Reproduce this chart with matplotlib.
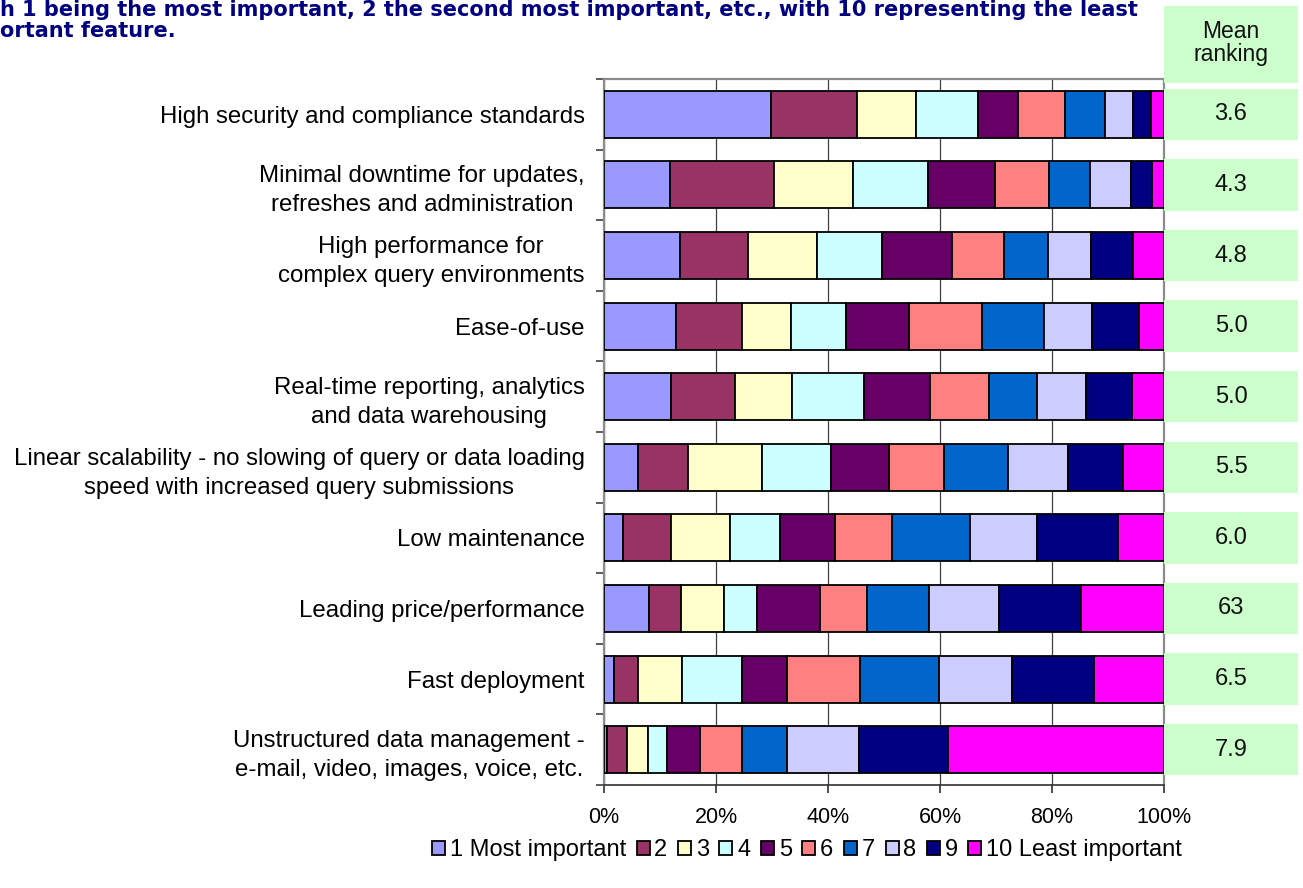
import matplotlib
matplotlib.use("Agg")
import matplotlib.pyplot as plt
import numpy as np
from matplotlib.patches import Rectangle

categories = [
    "High security and compliance standards",
    "Minimal downtime for updates,\nrefreshes and administration",
    "High performance for\ncomplex query environments",
    "Ease-of-use",
    "Real-time reporting, analytics\nand data warehousing",
    "Linear scalability - no slowing of query or data loading\nspeed with increased query submissions",
    "Low maintenance",
    "Leading price/performance",
    "Fast deployment",
    "Unstructured data management -\ne-mail, video, images, voice, etc.",
]

series_names = ["1 Most important", "2", "3", "4", "5", "6", "7", "8", "9", "10 Least important"]

# percentage of respondents per rank (rows = categories, columns = rank 1..10)
rank_1 = [29.8, 11.7, 13.6, 12.8, 11.9, 6.0, 3.4, 8.1, 1.7, 0.6]
rank_2 = [15.3, 18.6, 12.1, 11.8, 11.5, 9.0, 8.5, 5.7, 4.4, 3.5]
rank_3 = [10.6, 14.2, 12.4, 8.8, 10.2, 13.3, 10.6, 7.6, 7.9, 3.7]
rank_4 = [11.0, 13.4, 11.6, 9.9, 12.8, 12.3, 8.9, 6.0, 10.6, 3.5]
rank_5 = [7.3, 12.0, 12.5, 11.1, 11.8, 10.3, 9.8, 11.2, 8.0, 5.8]
rank_6 = [8.4, 9.5, 9.2, 13.1, 10.5, 9.8, 10.2, 8.3, 13.1, 7.5]
rank_7 = [7.1, 7.3, 7.8, 11.1, 8.6, 11.4, 13.9, 11.2, 14.1, 8.0]
rank_8 = [5.0, 7.4, 7.7, 8.6, 8.8, 10.8, 12.0, 12.4, 13.1, 13.0]
rank_9 = [3.2, 3.7, 7.6, 8.4, 8.2, 9.7, 14.5, 14.7, 14.6, 15.9]
rank_10 = [2.3, 2.2, 5.5, 4.4, 5.7, 7.4, 8.2, 14.8, 12.5, 38.5]

mean_ranking = ["3.6", "4.3", "4.8", "5.0", "5.0", "5.5", "6.0", "63", "6.5", "7.9"]

x_ticks = [0, 20, 40, 60, 80, 100]
x_tick_labels = ["0%", "20%", "40%", "60%", "80%", "100%"]

title_line1 = "h 1 being the most important, 2 the second most important, etc., with 10 representing the least"
title_line2 = "ortant feature."
header_text = "Mean\nranking"

colors = ["#9999FF", "#993366", "#FFFFCC", "#CCFFFF", "#660066",
          "#FF8080", "#0066CC", "#CCCCFF", "#000080", "#FF00FF"]

plt.rcParams["font.family"] = ["Liberation Sans", "DejaVu Sans"]

W, H = 1303, 888
fig = plt.figure(figsize=(W / 100, H / 100), dpi=100)

def fx(px):
    return px / W

def fy(py):
    return 1 - py / H

ax_left, ax_right, ax_top, ax_bot = 604, 1164, 79, 785
ax = fig.add_axes([fx(ax_left), fy(ax_bot), fx(ax_right - ax_left), (ax_bot - ax_top) / H])

data = np.array([rank_1, rank_2, rank_3, rank_4, rank_5, rank_6, rank_7, rank_8, rank_9, rank_10])
y = np.arange(len(categories))
left = np.zeros(len(categories))
handles = []
for i in range(10):
    b = ax.barh(y, data[i], left=left, height=0.667, color=colors[i],
                edgecolor="black", linewidth=1.3, label=series_names[i], zorder=3)
    handles.append(b)
    left += data[i]

ax.set_xlim(0, 100)
ax.set_ylim(len(categories) - 0.5, -0.5)
ax.set_xticks(x_ticks)
ax.set_xticklabels(x_tick_labels, fontsize=15.5)
ax.set_yticks(y)
ax.set_yticklabels(categories, fontsize=17.3, multialignment="center", linespacing=1.4)
ax.set_yticks(np.arange(-0.5, len(categories) + 0.5, 1), minor=True)
ax.tick_params(axis="y", which="major", length=0, pad=14)
ax.tick_params(axis="y", which="minor", length=6, width=1.2, color="#404040", direction="out")
ax.tick_params(axis="x", which="major", length=6, width=1.2, color="#303030", direction="out", pad=10)
ax.xaxis.grid(True, color="#404040", linewidth=0.9, zorder=0)
ax.set_axisbelow(True)
for s in ["top", "right", "left"]:
    ax.spines[s].set_color("#8c8c8c")
    ax.spines[s].set_linewidth(1.6)
ax.spines["bottom"].set_color("#303030")
ax.spines["bottom"].set_linewidth(1.2)

# Mean ranking column
ax2 = fig.add_axes([fx(1164), fy(ax_bot), fx(1298 - 1164), (ax_bot - ax_top) / H])
ax2.set_xlim(0, 1)
ax2.set_ylim(len(categories) - 0.5, -0.5)
ax2.barh(y, [1] * len(categories), height=0.73, color="#CCFFCC", edgecolor="none")
for yi, txt in zip(y, mean_ranking):
    ax2.text(0.5, yi, txt, ha="center", va="center", fontsize=17, color="#111111")
# header cell
ax2.add_patch(Rectangle((0, -0.5 - 73 / 70.6), 1, 77 / 70.6, facecolor="#CCFFCC",
                        edgecolor="none", clip_on=False, transform=ax2.transData))
ax2.text(0.5, -0.5 - 36 / 70.6, header_text, ha="center", va="center", fontsize=16.5,
         linespacing=1.05, clip_on=False, color="#111111")
ax2.axis("off")

# title (cropped in the reference)
fig.text(0, fy(16), title_line1, fontsize=15, fontweight="bold", color="#000080",
         family="DejaVu Sans", ha="left", va="baseline")
fig.text(0, fy(37), title_line2, fontsize=15, fontweight="bold", color="#000080",
         family="DejaVu Sans", ha="left", va="baseline")

fig.legend(handles=handles, labels=series_names, loc="center", bbox_to_anchor=(fx(807), fy(850)),
           ncol=10, frameon=False, fontsize=17, handlelength=0.55, handleheight=0.55,
           handletextpad=0.2, columnspacing=0.45, borderpad=0)

fig.savefig("out.png", dpi=100)
